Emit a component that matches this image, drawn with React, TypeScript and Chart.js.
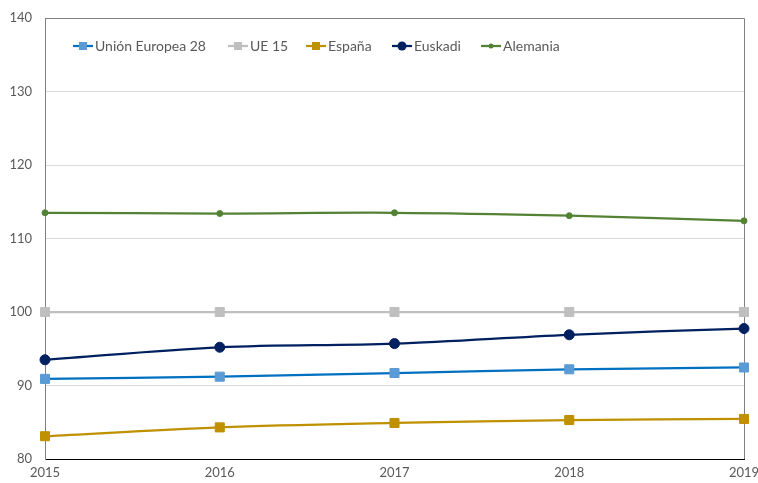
import React, { useEffect, useRef } from "react";
import { Chart, registerables } from "chart.js";

Chart.register(...registerables);

const years = ["2015", "2016", "2017", "2018", "2019"];
const ue28 = [90.9, 91.2, 91.7, 92.2, 92.45];
const ue15 = [100, 100, 100, 100, 100];
const espana = [83.1, 84.3, 84.9, 85.3, 85.45];
const euskadi = [93.5, 95.2, 95.7, 96.9, 97.75];
const alemania = [113.5, 113.4, 113.5, 113.1, 112.4];

const yTicks = [80, 90, 100, 110, 120, 130, 140];

const FONT = "Lato, 'Liberation Sans', sans-serif";
const TEXT = "#595959";

type Series = {
  label: string;
  data: number[];
  line: string;
  fill: string;
  style: "rect" | "circle";
  radius: number;
  legendX: number;
};

const series: Series[] = [
  { label: "Unión Europea 28", data: ue28, line: "#0070C0", fill: "#5B9BD5", style: "rect", radius: 6.4, legendX: 73 },
  { label: "UE 15", data: ue15, line: "#BFBFBF", fill: "#BFBFBF", style: "rect", radius: 6.4, legendX: 228 },
  { label: "España", data: espana, line: "#BF9000", fill: "#BF9000", style: "rect", radius: 6.4, legendX: 306 },
  { label: "Euskadi", data: euskadi, line: "#002060", fill: "#002060", style: "circle", radius: 5, legendX: 392 },
  { label: "Alemania", data: alemania, line: "#548235", fill: "#548235", style: "circle", radius: 3, legendX: 481 },
];

const boxPlugin = {
  id: "box",
  beforeDatasetsDraw(chart: any) {
    const { ctx, chartArea } = chart;
    ctx.save();
    ctx.strokeStyle = "#808080";
    ctx.lineWidth = 1;
    ctx.beginPath();
    ctx.moveTo(chartArea.left, chartArea.top + 0.5);
    ctx.lineTo(chartArea.right + 0.5, chartArea.top + 0.5);
    ctx.lineTo(chartArea.right + 0.5, chartArea.bottom);
    ctx.stroke();
    ctx.restore();
  },
};

function LegendIcon({ s }: { s: Series }) {
  return (
    <svg width={20} height={12} style={{ display: "block" }}>
      <line x1={0} y1={6} x2={20} y2={6} stroke={s.line} strokeWidth={2.25} />
      {s.style === "rect" ? (
        <rect x={6} y={2} width={8} height={8} fill={s.fill} />
      ) : (
        <circle cx={10} cy={6} r={s.radius === 5 ? 4.5 : 2.5} fill={s.fill} />
      )}
    </svg>
  );
}

export default function App() {
  const ref = useRef<HTMLCanvasElement>(null);

  useEffect(() => {
    if (!ref.current) return;
    const chart = new Chart(ref.current, {
      type: "line",
      data: {
        labels: years,
        datasets: series.map((s) => ({
          label: s.label,
          data: s.data,
          borderColor: s.line,
          backgroundColor: s.fill,
          borderWidth: 2.25,
          pointStyle: s.style,
          pointRadius: s.radius,
          pointBackgroundColor: s.fill,
          pointBorderColor: s.fill,
          pointBorderWidth: 1,
          tension: 0.35,
          fill: false,
        })),
      },
      plugins: [boxPlugin],
      options: {
        responsive: false,
        animation: false,
        layout: { padding: { top: 18, right: 14, left: 0, bottom: 0 } },
        plugins: {
          legend: { display: false },
          tooltip: { enabled: false },
        },
        scales: {
          x: {
            type: "category",
            offset: false,
            grid: { display: false, drawTicks: false },
            border: { display: true, color: "#000000", width: 1 },
            ticks: {
              color: TEXT,
              font: { family: FONT, size: 13 },
              padding: 6,
              maxRotation: 0,
            },
            afterFit(scale: any) {
              scale.height = 24;
              scale.paddingLeft = 0;
              scale.paddingRight = 0;
            },
          },
          y: {
            min: 80,
            max: 140,
            afterBuildTicks(scale: any) {
              scale.ticks = yTicks.map((v) => ({ value: v }));
            },
            grid: { color: "#D9D9D9", lineWidth: 1, drawTicks: false },
            border: { display: true, color: "#808080", width: 1 },
            ticks: {
              color: TEXT,
              font: { family: FONT, size: 13 },
              padding: 13,
            },
            afterFit(scale: any) {
              scale.width = 45;
              scale.paddingTop = 0;
              scale.paddingBottom = 0;
            },
          },
        },
      },
    });
    return () => chart.destroy();
  }, []);

  return (
    <div style={{ position: "absolute", left: 0, top: 0, width: 758, height: 483, background: "#fff" }}>
      <canvas ref={ref} width={758} height={483} style={{ display: "block" }} />
      {series.map((s) => (
        <div
          key={s.label}
          style={{
            position: "absolute",
            left: s.legendX,
            top: 37,
            display: "flex",
            alignItems: "center",
            gap: 2,
            fontFamily: FONT,
            fontSize: 14,
            color: TEXT,
            lineHeight: "18px",
            whiteSpace: "nowrap",
          }}
        >
          <LegendIcon s={s} />
          <span>{s.label}</span>
        </div>
      ))}
    </div>
  );
}
